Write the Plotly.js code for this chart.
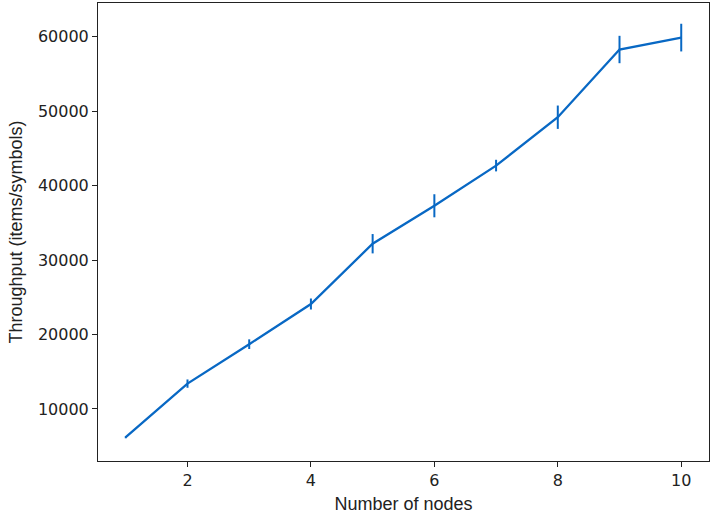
<!DOCTYPE html>
<html>
<head>
<meta charset="utf-8">
<script src="https://cdn.plot.ly/plotly-3.0.1.min.js"></script>
<style>
  html, body { margin: 0; padding: 0; background: #fff; }
  #chart { width: 713px; height: 522px; }
</style>
</head>
<body>
<div id="chart"></div>
<script>
// Throughput measured per cluster size
const nodes = [1, 2, 3, 4, 5, 6, 7, 8, 9, 10];
const throughput = [6200, 13400, 18700, 24100, 32200, 37300, 42700, 49200, 58300, 59900];
const errors = [150, 560, 650, 740, 1300, 1550, 780, 1570, 1840, 1860];
const xTicks = [2, 4, 6, 8, 10];
const yTicks = [10000, 20000, 30000, 40000, 50000, 60000];

const lineColor = '#0868c4';

const data = [{
    x: nodes,
    y: throughput,
    type: 'scatter',
    mode: 'lines',
    line: { color: lineColor, width: 2.3 },
    error_y: {
        type: 'data',
        array: errors,
        visible: true,
        color: lineColor,
        thickness: 2,
        width: 0
    },
    hoverinfo: 'skip'
}];

const axisCommon = {
    showgrid: false,
    zeroline: false,
    showline: true,
    mirror: true,
    linecolor: '#222',
    linewidth: 1,
    ticks: 'outside',
    ticklen: 5,
    tickwidth: 1,
    tickcolor: '#222',
    tickfont: { family: 'DejaVu Sans', size: 16, color: '#222' }
};

const layout = {
    width: 713,
    height: 522,
    margin: { l: 98, r: 4, t: 3, b: 61 },
    paper_bgcolor: '#fff',
    plot_bgcolor: '#fff',
    showlegend: false,
    xaxis: Object.assign({}, axisCommon, {
        range: [0.55, 10.45],
        tickvals: xTicks,
        ticktext: xTicks.map(String),
        title: {
            text: 'Number of nodes',
            font: { family: 'Liberation Sans', size: 18, color: '#222' },
            standoff: 8
        }
    }),
    yaxis: Object.assign({}, axisCommon, {
        range: [3000, 64550],
        tickvals: yTicks,
        ticktext: yTicks.map(String),
        title: {
            text: 'Throughput (items/symbols)',
            font: { family: 'Liberation Sans', size: 18, color: '#222' },
            standoff: 10
        }
    })
};

Plotly.newPlot('chart', data, layout, { displayModeBar: false, staticPlot: true });
</script>
</body>
</html>
